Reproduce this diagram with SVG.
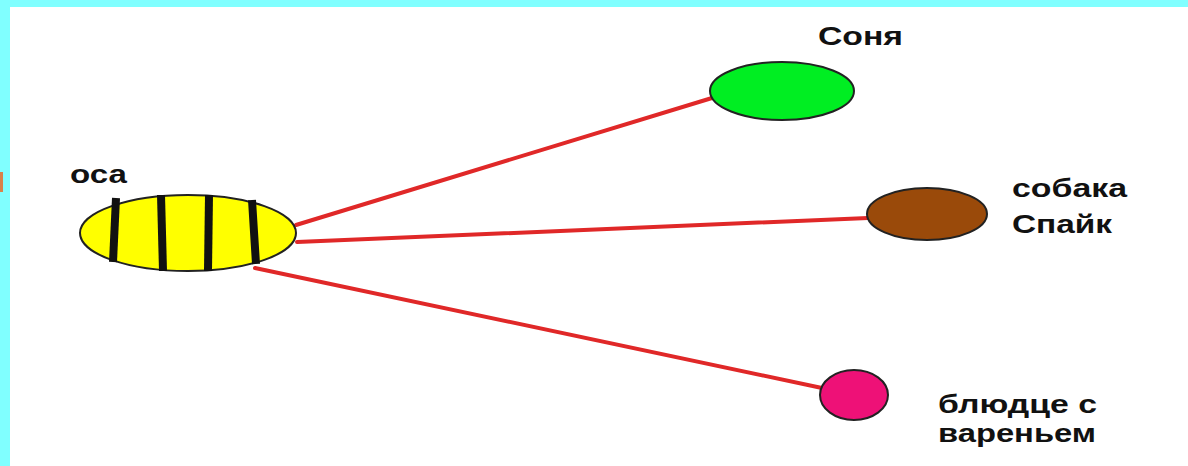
<svg xmlns="http://www.w3.org/2000/svg" width="1188" height="466" viewBox="0 0 1188 466">
<style>
.lbl{font-family:"Liberation Sans",Arial,sans-serif;font-weight:bold;font-size:25px;fill:#111111}
.edge{stroke:#e02828;stroke-width:4;stroke-linecap:round;fill:none}
.stripe{stroke:#111;stroke-width:8;stroke-linecap:butt}
.outline{stroke:#222;stroke-width:2}
</style>
<rect width="1188" height="466" fill="#ffffff"/>
<rect x="0" y="0" width="1188" height="7" fill="#80ffff"/>
<rect x="0" y="0" width="10" height="466" fill="#80ffff"/>
<rect x="0" y="172" width="3" height="20" fill="#d9824a"/>
<g id="connectors">
<line class="edge" x1="296" y1="225" x2="712" y2="98"/>
<line class="edge" x1="297" y1="242" x2="868" y2="218"/>
<line class="edge" x1="255" y1="268" x2="822" y2="388"/>
</g>
<g id="wasp">
<ellipse class="outline" cx="188" cy="233" rx="108" ry="38" fill="#ffff00"/>
<line class="stripe" x1="116" y1="198" x2="113" y2="262"/>
<line class="stripe" x1="161" y1="195" x2="163" y2="271"/>
<line class="stripe" x1="209" y1="195" x2="208" y2="271"/>
<line class="stripe" x1="252" y1="200" x2="256" y2="264"/>
<text class="lbl" x="70" y="183" textLength="57" lengthAdjust="spacingAndGlyphs">оса</text>
</g>
<g id="sonya">
<ellipse class="outline" cx="782" cy="91" rx="72" ry="29" fill="#00ee22"/>
<text class="lbl" x="818" y="45" textLength="85" lengthAdjust="spacingAndGlyphs">Соня</text>
</g>
<g id="dog">
<ellipse class="outline" cx="927" cy="214" rx="60" ry="26" fill="#9a4a0a"/>
<text class="lbl" x="1012" y="197" textLength="115" lengthAdjust="spacingAndGlyphs">собака</text>
<text class="lbl" x="1012" y="233" textLength="100" lengthAdjust="spacingAndGlyphs">Спайк</text>
</g>
<g id="saucer">
<ellipse class="outline" cx="854" cy="395" rx="34" ry="25" fill="#ee1177"/>
<text class="lbl" x="938" y="413" textLength="159" lengthAdjust="spacingAndGlyphs">блюдце с</text>
<text class="lbl" x="938" y="442" textLength="158" lengthAdjust="spacingAndGlyphs">вареньем</text>
</g>
</svg>
